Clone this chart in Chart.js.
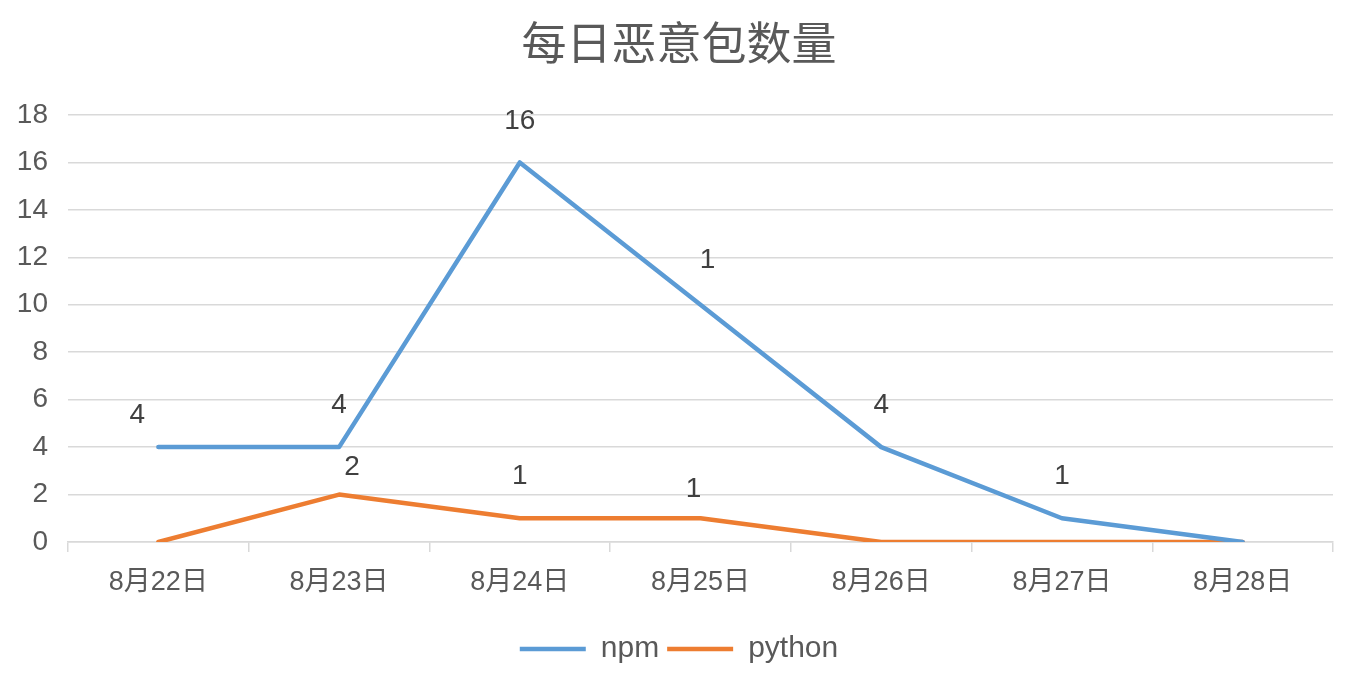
<!DOCTYPE html>
<html>
<head>
<meta charset="utf-8">
<title>每日恶意包数量</title>
<script src="https://cdn.jsdelivr.net/npm/chart.js@4/dist/chart.umd.min.js"></script>
<style>
  html, body { margin: 0; padding: 0; background: #fff; }
  #wrap { width: 1358px; height: 682px; position: relative; }
</style>
</head>
<body>
<div id="wrap"><canvas id="chart"></canvas></div>
<script>
// data
const days = ['8月22日', '8月23日', '8月24日', '8月25日', '8月26日', '8月27日', '8月28日'];
const npmCounts = [4, 4, 16, 10, 4, 1, 0];
const pythonCounts = [0, 2, 1, 1, 0, 0, 0];
// labels as they appear on the chart (the 10 shows as "1", zeros have no label)
const npmLabels = ['4', '4', '16', '1', '4', '1', ''];
const pythonLabels = ['', '2', '1', '1', '', '', ''];
const yTicks = [0, 2, 4, 6, 8, 10, 12, 14, 16, 18];

// label nudges in px, relative to the point [dx, dy]
const npmNudge = [[-21, -32], [0, -42], [0, -41], [7, -44], [0, -42], [0, -42], [0, -42]];
const pythonNudge = [[0, -42], [13, -27], [0, -42], [-7, -29], [0, -42], [0, -42], [0, -42]];

const FONT = "'Liberation Sans', 'Noto Sans CJK SC', sans-serif";
const GRID = '#d9d9d9';
const TEXT = '#595959';

// draws the value labels next to each point
const valueLabels = {
    id: 'valueLabels',
    afterDatasetsDraw(chart) {
        const ctx = chart.ctx;
        const sets = [[npmLabels, npmNudge], [pythonLabels, pythonNudge]];
        ctx.save();
        ctx.font = '28px ' + FONT;
        ctx.fillStyle = '#404040';
        ctx.textAlign = 'center';
        ctx.textBaseline = 'middle';
        sets.forEach(([labels, nudge], di) => {
            const meta = chart.getDatasetMeta(di);
            meta.data.forEach((pt, i) => {
                if (!labels[i]) return;
                ctx.fillText(labels[i], pt.x + nudge[i][0], pt.y + nudge[i][1]);
            });
        });
        ctx.restore();
    }
};

const ctx = document.getElementById('chart').getContext('2d');
new Chart(ctx, {
    type: 'line',
    data: {
        labels: days,
        datasets: [{
            label: 'npm',
            data: npmCounts,
            borderColor: '#5B9BD5',
            backgroundColor: '#5B9BD5',
            borderWidth: 4.5,
            borderCapStyle: 'round',
            borderJoinStyle: 'round',
            pointRadius: 0,
            tension: 0
        }, {
            label: 'python',
            data: pythonCounts,
            borderColor: '#ED7D31',
            backgroundColor: '#ED7D31',
            borderWidth: 4.5,
            borderCapStyle: 'round',
            borderJoinStyle: 'round',
            pointRadius: 0,
            tension: 0
        }]
    },
    options: {
        responsive: true,
        maintainAspectRatio: false,
        animation: false,
        layout: { padding: { left: 0, right: 0, top: 0, bottom: 8 } },
        plugins: {
            title: {
                display: true,
                text: '每日恶意包数量',
                color: TEXT,
                font: { family: "'Noto Sans CJK SC', sans-serif", size: 45, weight: 'normal' },
                padding: { top: 16, bottom: 45 }
            },
            legend: {
                position: 'bottom',
                labels: {
                    color: TEXT,
                    font: { family: FONT, size: 30 },
                    usePointStyle: true,
                    pointStyle: 'line',
                    pointStyleWidth: 66,
                    padding: 8
                }
            },
            tooltip: { enabled: false }
        },
        scales: {
            x: {
                offset: true,
                grid: {
                    offset: true,
                    drawOnChartArea: false,
                    color: GRID,
                    lineWidth: 1.5,
                    tickLength: 10
                },
                border: { color: GRID, width: 1.5 },
                ticks: {
                    color: TEXT,
                    font: { family: FONT, size: 27 },
                    padding: 14,
                    maxRotation: 0
                },
                afterFit(scale) { scale.height = 84; }
            },
            y: {
                min: 0,
                max: 18,
                afterBuildTicks(scale) { scale.ticks = yTicks.map(v => ({ value: v })); },
                grid: { color: GRID, lineWidth: 1.5, drawTicks: false },
                border: { display: false },
                ticks: {
                    color: TEXT,
                    font: { family: FONT, size: 28 },
                    padding: 20
                },
                afterFit(scale) { scale.width = 68; }
            },
            // empty right-hand axis, only keeps the right margin
            yRight: {
                position: 'right',
                min: 0,
                max: 18,
                grid: { display: false },
                border: { display: false },
                ticks: { display: false },
                afterFit(scale) { scale.width = 25; }
            }
        }
    },
    plugins: [valueLabels]
});
</script>
</body>
</html>
